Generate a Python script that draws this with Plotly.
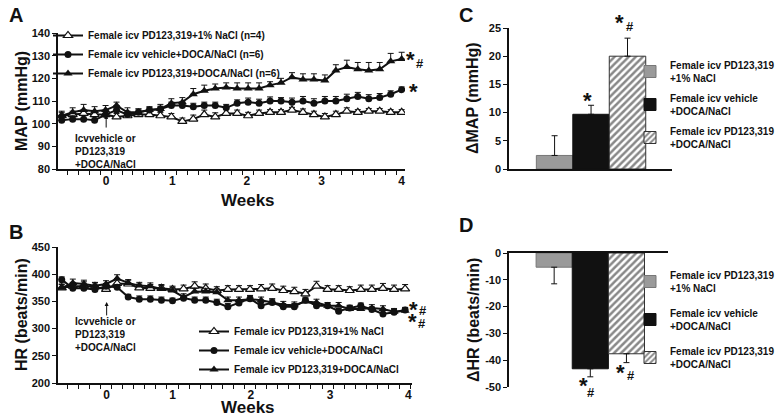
import plotly.graph_objects as go

W, H = 778, 417
def xp(px): return px / W
def yp(py): return 1 - py / H

# ---------------- data ----------------
weeks = [-0.600, -0.452, -0.304, -0.156, -0.008, 0.140, 0.288, 0.436, 0.584, 0.732,
         0.880, 1.028, 1.176, 1.324, 1.472, 1.620, 1.768, 1.916, 2.064, 2.212,
         2.360, 2.508, 2.656, 2.804, 2.952, 3.100, 3.248, 3.396, 3.544, 3.692,
         3.840, 3.988]
week_tickvals_a = [0, 0.893, 1.897, 2.909, 3.988]
week_tickvals_b = [0, 0.88, 1.927, 2.987, 4.03]
week_ticktext = ["0", "1", "2", "3", "4"]

series_names_a = ["Female icv PD123,319+1% NaCl (n=4)",
                  "Female icv vehicle+DOCA/NaCl (n=6)",
                  "Female icv PD123,319+DOCA/NaCl (n=6)"]
series_names_b = ["Female icv PD123,319+1% NaCl",
                  "Female icv vehicle+DOCA/NaCl",
                  "Female icv PD123,319+DOCA/NaCl"]

map_pd_nacl = [103.5, 104, 104.5, 104, 104, 103, 103.5, 104, 104, 103.5,
               103, 101, 102, 104, 103, 104.5, 104.5, 103.5, 104.5, 105,
               105, 106, 105, 104, 103, 104, 105.5, 105, 105.5, 105.5,
               105, 105]
map_pd_nacl_err = [1.5, 1.5, 1.5, 1.5, 1.5, 1.5, 1.5, 1.2, 1.2, 1.5,
                   1.5, 1.5, 1.8, 2.0, 1.8, 2.0, 1.5, 1.5, 1.5, 1.2,
                   1.2, 1.2, 1.5, 1.5, 1.5, 1.5, 1.5, 1.2, 1.2, 1.2,
                   1.2, 1.2]
map_veh_doca = [101.5, 102, 102, 101.5, 104, 106, 104, 105, 106, 106.5,
                108, 108, 107.5, 108, 108, 107, 109, 109.5, 109, 110,
                110, 109.5, 110, 109, 110, 110, 111, 112, 111, 111.5,
                113, 115]
map_veh_doca_err = [1.5, 1.5, 1.5, 1.5, 1.5, 1.5, 1.5, 1.5, 1.2, 1.2,
                    1.5, 1.5, 1.5, 1.5, 1.5, 1.5, 1.5, 1.8, 1.8, 1.8,
                    1.5, 1.8, 2.0, 2.0, 2.0, 2.0, 2.0, 1.8, 1.8, 1.8,
                    1.5, 1.2]
map_pd_doca = [103.5, 105, 106, 105.5, 106, 108, 105, 105, 106, 106.5,
               109, 109.5, 113, 114.5, 115.5, 116, 115.5, 115.5, 115.5, 117,
               118, 120.5, 119.5, 119.5, 119, 123.5, 125, 124, 123.5, 124,
               127.5, 128.5]
map_pd_doca_err = [2.0, 2.0, 2.5, 2.0, 2.0, 1.5, 2.0, 1.5, 1.5, 2.0,
                   2.0, 2.0, 2.5, 2.5, 2.0, 2.0, 2.5, 2.5, 2.5, 1.5,
                   2.0, 2.0, 2.5, 2.5, 2.5, 2.5, 3.0, 3.0, 3.5, 3.0,
                   3.5, 3.0]

hr_pd_nacl = [375, 378, 378, 377, 372, 383, 382, 375, 374, 374,
              372, 373, 378, 374, 370, 372, 372, 372, 373, 374,
              370, 368, 364, 378, 372, 372, 370, 372, 372, 374,
              372, 373]
hr_pd_nacl_err = [7, 7, 8, 7, 7, 8, 7, 7, 7, 7,
                  6, 7, 8, 8, 7, 7, 7, 7, 8, 8,
                  8, 8, 8, 9, 7, 7, 7, 8, 8, 9,
                  8, 8]
hr_veh_doca = [390, 374, 374, 372, 378, 376, 358, 354, 354, 352,
               351, 356, 352, 352, 348, 340, 347, 355, 342, 348,
               340, 340, 352, 342, 342, 332, 338, 342, 335, 327,
               330, 334]
hr_veh_doca_err = [5, 5, 5, 5, 5, 5, 5, 6, 6, 6,
                   5, 5, 6, 6, 6, 6, 6, 6, 6, 6,
                   6, 6, 6, 6, 5, 5, 5, 5, 5, 6,
                   5, 4]
hr_pd_doca = [375, 384, 382, 379, 382, 392, 384, 379, 378, 373,
              370, 358, 368, 368, 367, 352, 352, 354, 352, 348,
              344, 343, 350, 348, 342, 342, 336, 336, 338, 336,
              331, 333]
hr_pd_doca_err = [6, 7, 7, 6, 6, 7, 6, 6, 6, 6,
                  6, 6, 6, 6, 6, 6, 6, 6, 6, 7,
                  6, 6, 6, 6, 6, 6, 6, 6, 6, 6,
                  6, 6]

bar_names = ["Female icv PD123,319<br>+1% NaCl",
             "Female icv vehicle<br>+DOCA/NaCl",
             "Female icv PD123,319<br>+DOCA/NaCl"]
dmap_vals = [2.4, 9.7, 20.0]
dmap_err = [3.5, 1.6, 3.2]
dhr_vals = [-5.3, -43.2, -37.6]
dhr_err = [6.2, 3.0, 3.3]

# ---------------- styling ----------------
FONT = "Liberation Sans, Arial, sans-serif"
BLACK = "#111111"
marker_styles = [
    dict(symbol="triangle-up", size=8, color="white", line=dict(color=BLACK, width=1.2)),
    dict(symbol="circle", size=7, color=BLACK, line=dict(color=BLACK, width=0)),
    dict(symbol="triangle-up", size=8, color=BLACK, line=dict(color=BLACK, width=0)),
]
B = lambda s: "<b>" + s + "</b>"

fig = go.Figure()

def add_line(x, y, err, name, style, xa, ya, legend):
    fig.add_trace(go.Scatter(
        x=x, y=y, name=B(name), mode="lines+markers",
        line=dict(color=BLACK, width=2), marker=style,
        error_y=dict(type="data", array=err, arrayminus=[0] * len(err), symmetric=False,
                     color=BLACK, thickness=1, width=3),
        xaxis=xa, yaxis=ya, legend=legend, showlegend=True))

map_series = [map_pd_nacl, map_veh_doca, map_pd_doca]
map_errs = [map_pd_nacl_err, map_veh_doca_err, map_pd_doca_err]
for i in range(3):
    add_line(weeks, map_series[i], map_errs[i], series_names_a[i], marker_styles[i], "x", "y", "legend")

hr_series = [hr_pd_nacl, hr_veh_doca, hr_pd_doca]
hr_errs = [hr_pd_nacl_err, hr_veh_doca_err, hr_pd_doca_err]
for i in range(3):
    add_line(weeks, hr_series[i], hr_errs[i], series_names_b[i], marker_styles[i], "x2", "y2", "legend2")

bar_colors = ["#9a9a9a", "#111111", "white"]
bar_patterns = [dict(shape=""), dict(shape=""),
                dict(shape="/", fgcolor=BLACK, bgcolor="white", size=5, solidity=0.5)]
bar_lines = ["#777777", "#111111", "#333333"]
for i in range(3):
    fig.add_trace(go.Bar(
        x=[i], y=[dmap_vals[i]], width=1, name=B(bar_names[i]), legendgroup="c%d" % i,
        marker=dict(color=bar_colors[i], pattern=bar_patterns[i], line=dict(color=bar_lines[i], width=1)),
        error_y=dict(type="data", array=[dmap_err[i]], arrayminus=[0], symmetric=False,
                     color=BLACK, thickness=1, width=3),
        xaxis="x3", yaxis="y3", legend="legend3"))
for i in range(3):
    fig.add_trace(go.Bar(
        x=[i], y=[dhr_vals[i]], width=1, name=B(bar_names[i]), legendgroup="d%d" % i,
        marker=dict(color=bar_colors[i], pattern=bar_patterns[i], line=dict(color=bar_lines[i], width=1)),
        error_y=dict(type="data", array=[0], arrayminus=[dhr_err[i]], symmetric=False,
                     color=BLACK, thickness=1, width=3),
        xaxis="x4", yaxis="y4", legend="legend4"))

tickfont = dict(family=FONT, size=11, color=BLACK)

def week_axis(dom, tv, rng):
    return dict(domain=dom, range=rng, tickmode="array", tickvals=tv, ticktext=[B(t) for t in week_ticktext],
                ticks="", showline=True, linecolor=BLACK, linewidth=1.5, showgrid=False,
                zeroline=False, tickfont=dict(family=FONT, size=12, color=BLACK),
                minor=dict(tick0=-0.526, dtick=0.148, ticks="outside", ticklen=4,
                           tickcolor=BLACK, tickwidth=1, showgrid=False))

def val_axis(dom, rng, dt, anchor):
    tv = []
    v = rng[0]
    while v <= rng[1] + 1e-9:
        tv.append(v)
        v += dt
    return dict(domain=dom, range=rng, tickmode="array", tickvals=tv,
                ticktext=[B(str(int(t))) for t in tv], ticks="outside", ticklen=4,
                tickcolor=BLACK, showline=True, linecolor=BLACK, linewidth=1.5,
                showgrid=False, zeroline=False, tickfont=tickfont, anchor=anchor)

legfont = dict(family=FONT, size=10, color=BLACK)
fig.update_layout(
    width=W, height=H, margin=dict(l=0, r=0, t=0, b=0, autoexpand=False),
    paper_bgcolor="white", plot_bgcolor="white",
    font=dict(family=FONT, color=BLACK, size=11),
    barmode="overlay",
    xaxis=dict(**week_axis([xp(58), xp(405)], week_tickvals_a, [-0.65, 4.033]), anchor="y"),
    yaxis=val_axis([yp(169), yp(33)], [80, 140], 10, "x"),
    xaxis2=dict(**week_axis([xp(58), xp(412)], week_tickvals_b, [-0.65, 4.08]), anchor="y2"),
    yaxis2=val_axis([yp(383), yp(247)], [200, 450], 50, "x2"),
    xaxis3=dict(domain=[xp(509), xp(672)], range=[-1.25, 3.22], anchor="y3",
                showline=True, linecolor=BLACK, linewidth=1.5, showticklabels=False,
                ticks="", showgrid=False, zeroline=False),
    yaxis3=val_axis([yp(169), yp(28)], [0, 25], 5, "x3"),
    xaxis4=dict(domain=[xp(509), xp(668)], range=[-1.25, 3.15], anchor="y4", side="top",
                showline=True, linecolor=BLACK, linewidth=1.5, showticklabels=False,
                ticks="", showgrid=False, zeroline=False),
    yaxis4=val_axis([yp(387), yp(253)], [-50, 0], 10, "x4"),
    legend=dict(x=xp(48), y=yp(21), xanchor="left", yanchor="top", bgcolor="rgba(0,0,0,0)",
                font=legfont, itemwidth=30, tracegroupgap=0, traceorder="normal"),
    legend2=dict(x=xp(194), y=yp(317), xanchor="left", yanchor="top", bgcolor="rgba(0,0,0,0)",
                 font=legfont, itemwidth=30, traceorder="normal"),
    legend3=dict(x=xp(630), y=yp(52), xanchor="left", yanchor="top", bgcolor="rgba(0,0,0,0)",
                 font=legfont, traceorder="grouped", itemwidth=30, tracegroupgap=4),
    legend4=dict(x=xp(630), y=yp(262), xanchor="left", yanchor="top", bgcolor="rgba(0,0,0,0)",
                 font=legfont, traceorder="grouped", itemwidth=30, tracegroupgap=9),
)

anns = []
def txt(x, y, t, size, **kw):
    d = dict(x=xp(x), y=yp(y), xref="paper", yref="paper", text=t, showarrow=False,
             xanchor="center", yanchor="middle",
             font=dict(family=FONT, size=size, color=BLACK))
    d.update(kw)
    anns.append(d)

# panel letters
txt(16, 15, B("A"), 20)
txt(16, 232, B("B"), 20)
txt(466, 15, B("C"), 20)
txt(466, 225, B("D"), 20)
# axis titles
txt(21, 101, B("MAP (mmHg)"), 16, textangle=-90)
txt(21, 315, B("HR (beats/min)"), 16, textangle=-90)
txt(473, 98, B("ΔMAP (mmHg)"), 16, textangle=-90)
txt(473, 320, B("ΔHR (beats/min)"), 16, textangle=-90)
txt(248, 200, B("Weeks"), 17)
txt(248, 407, B("Weeks"), 17)
# intervention notes
txt(73, 131, B("Icvvehicle or<br>PD123,319<br>+DOCA/NaCl"), 10, xanchor="left", yanchor="top", align="left")
txt(73, 314, B("Icvvehicle or<br>PD123,319<br>+DOCA/NaCl"), 10, xanchor="left", yanchor="top", align="left")
# significance marks
txt(411, 59, B("*"), 22)
txt(420, 64, B("#"), 13)
txt(413, 92, B("*"), 22)
txt(413, 309, B("*"), 22)
txt(423, 310, B("#"), 13)
txt(412, 321, B("*"), 22)
txt(422, 323, B("#"), 13)
txt(587, 100, B("*"), 22)
txt(619, 23, B("*"), 22)
txt(630, 26, B("#"), 13)
txt(583, 385, B("*"), 22)
txt(591, 392, B("#"), 13)
txt(620, 372, B("*"), 22)
txt(631, 375, B("#"), 13)

# arrows marking start of treatment
anns.append(dict(x=0, y=103.8, xref="x", yref="y", ax=0, ay=14,
                 showarrow=True, arrowhead=2, arrowsize=0.8, arrowwidth=1, arrowcolor=BLACK, text=""))
anns.append(dict(x=0, y=349, xref="x2", yref="y2", ax=0, ay=15, showarrow=True,
                 arrowhead=2, arrowsize=0.8, arrowwidth=1, arrowcolor=BLACK, text=""))

fig.update_layout(annotations=anns)
fig.write_html("out.html", config={"displayModeBar": False},
               post_script="document.body.style.margin='0';document.body.style.overflow='hidden';")
